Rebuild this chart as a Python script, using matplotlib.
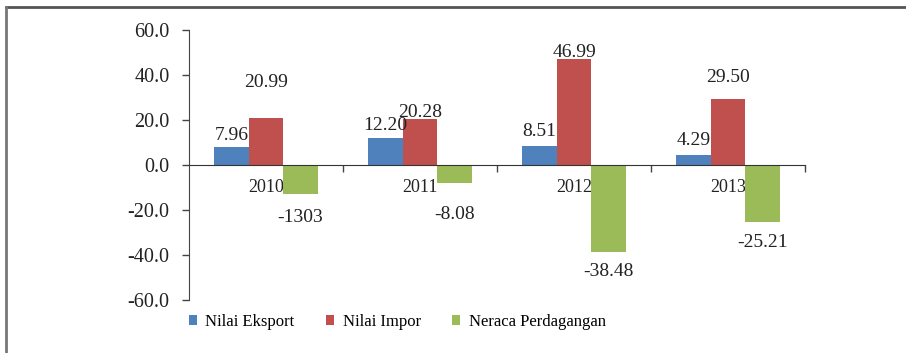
import numpy as np
import matplotlib.pyplot as plt
from matplotlib.lines import Line2D
from matplotlib.ticker import FixedLocator

plt.rcParams['font.family'] = ['Liberation Serif', 'DejaVu Serif']
plt.rcParams['font.size'] = 14

years = ['2010', '2011', '2012', '2013']
series = ['Nilai Eksport', 'Nilai Impor', 'Neraca Perdagangan']
eksport = [7.96, 12.20, 8.51, 4.29]
impor = [20.99, 20.28, 46.99, 29.50]
neraca = [-13.03, -8.08, -38.48, -25.21]
neraca_text = ['-1303', '-8.08', '-38.48', '-25.21']

colors = ['#4F81BD', '#C0504D', '#9BBB59']
# how far (points) each value label sits from the end of its bar
nudge = [[2, 2.5, 4, 4.5],
         [19, -1.5, -1.5, 9],
         [10.5, 16.5, 8.5, 8.5]]

fig = plt.figure(figsize=(9.06, 3.53), dpi=100)
ax = fig.add_axes([0.2086, 0.150, 0.68, 0.765])

x = np.arange(len(years)) + 0.5
w = 0.224
values = [eksport, impor, neraca]
for k, (vals, col) in enumerate(zip(values, colors)):
    pos = x + (k - 1) * w
    ax.bar(pos, vals, width=w, color=col, label=series[k], zorder=2)
    for i, v in enumerate(vals):
        txt = neraca_text[i] if k == 2 else f'{v:.2f}'
        dy = nudge[k][i] if v >= 0 else -nudge[k][i]
        ax.annotate(txt, (pos[i], v), xytext=(0, dy), textcoords='offset points',
                    ha='center', va='bottom' if v >= 0 else 'top', color='#222222')

ax.set_xlim(0, 4)
ax.set_ylim(-60, 60)
ax.set_yticks(np.arange(-60, 61, 20))
ax.set_yticklabels([f'{t:.1f}' for t in np.arange(-60, 61, 20)])
ax.set_xticks(x)
ax.set_xticklabels(years)
ax.xaxis.set_minor_locator(FixedLocator([1, 2, 3, 4]))
ax.tick_params(axis='x', which='major', length=0, pad=10, labelsize=13, colors='#222222')
ax.tick_params(axis='x', which='minor', length=5, width=1, direction='out', color='#444444')
ax.tick_params(axis='y', length=5, width=1, direction='out', pad=9, labelsize=14.5,
               color='#444444', labelcolor='#222222')

for s in ['top', 'right']:
    ax.spines[s].set_visible(False)
ax.spines['bottom'].set_position(('data', 0))
ax.spines['bottom'].set_color('#333333')
ax.spines['left'].set_color('#444444')
ax.set_facecolor('none')

fig.legend(loc='center left', bbox_to_anchor=(0.192, 0.088), ncol=3, frameon=False,
           handlelength=0.48, handleheight=0.48, handletextpad=0.5, columnspacing=1.9,
           fontsize=12)

# frame along the top and left edge
fig.add_artist(Line2D([0.0066, 1.0], [0.981, 0.981], color='#555555', lw=2,
                      transform=fig.transFigure))
fig.add_artist(Line2D([0.0066, 0.0066], [0.0, 0.981], color='#777777', lw=2,
                      transform=fig.transFigure))

fig.savefig('out.png', dpi=100)
